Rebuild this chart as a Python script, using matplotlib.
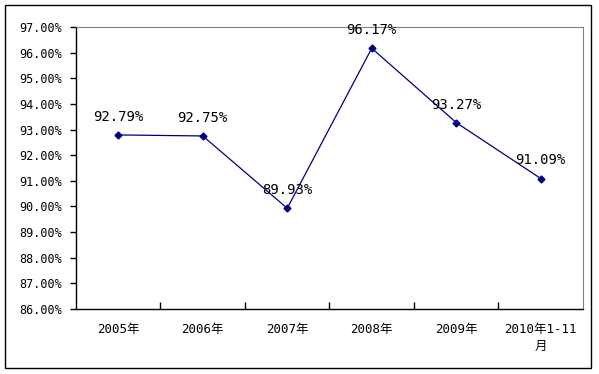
import matplotlib
matplotlib.use("Agg")
import matplotlib.pyplot as plt
import matplotlib.patches as patches

# data
categories = ["2005年", "2006年", "2007年", "2008年", "2009年", "2010年1-11\n月"]
rates = [92.79, 92.75, 89.93, 96.17, 93.27, 91.09]
yticks = [86, 87, 88, 89, 90, 91, 92, 93, 94, 95, 96, 97]

fam = ["DejaVu Sans Mono", "Noto Sans CJK SC"]
plt.rcParams["font.family"] = fam

fig = plt.figure(figsize=(5.99, 3.74), dpi=100)
# outer chart border
fig.patches.append(patches.Rectangle((5 / 599, 1 - 368 / 374), 586 / 599, 363 / 374,
                                     transform=fig.transFigure, fill=False,
                                     ec="black", lw=1.0))

ax = fig.add_axes([76 / 599, 1 - 309 / 374, 507 / 599, 282 / 374])
x = list(range(len(categories)))
ax.plot(x, rates, color="#000080", lw=0.9, marker="D", ms=3.5,
        mfc="#000080", mec="#000080")

for xi, v in zip(x, rates):
    ax.annotate(f"{v:.2f}%", (xi, v), xytext=(0, 8), textcoords="offset points",
                ha="center", va="bottom", fontsize=10, color="black")

ax.set_xlim(-0.5, len(categories) - 0.5)
ax.set_ylim(86, 97)
ax.set_yticks(yticks)
ax.set_yticklabels([f"{t:.2f}%" for t in yticks], fontsize=8.5)
ax.set_xticks(x)
ax.set_xticklabels(categories, fontsize=9, linespacing=1.4)
ax.set_xticks([i + 0.5 for i in x[:-1]], minor=True)
ax.tick_params(axis="x", which="major", length=0, pad=10)
ax.tick_params(axis="x", which="minor", length=5, direction="in", width=1)
ax.tick_params(axis="y", length=4, direction="out", width=1, pad=6)

ax.spines["top"].set_color("#808080")
ax.spines["right"].set_color("#808080")
ax.spines["left"].set_linewidth(1)
ax.spines["bottom"].set_linewidth(1)

fig.savefig("out.png", dpi=100)
